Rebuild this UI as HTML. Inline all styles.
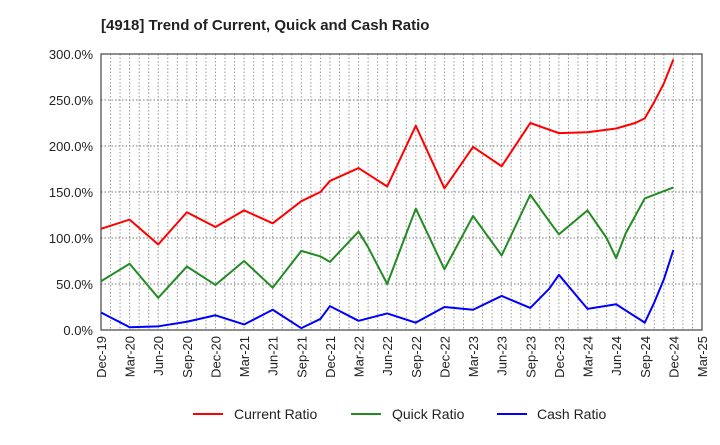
<!DOCTYPE html>
<html><head><meta charset="utf-8"><style>
body{margin:0;background:#fff;font-family:"Liberation Sans",sans-serif}
</style></head><body>
<svg id="chart" width="720" height="440" xmlns="http://www.w3.org/2000/svg" font-family="Liberation Sans, sans-serif">
<text x="101" y="30" font-size="15" font-weight="bold" fill="#222">[4918]  Trend of Current, Quick and Cash Ratio</text>
<g id="grid"></g><g id="axes"></g><g id="series"></g>
<g>
<line x1="193" y1="414" x2="223" y2="414" stroke="#ff0000" stroke-width="2"/>
<text x="234" y="419" font-size="14" fill="#222">Current Ratio</text>
<line x1="351" y1="414" x2="381" y2="414" stroke="#228b22" stroke-width="2"/>
<text x="392" y="419" font-size="14" fill="#222">Quick Ratio</text>
<line x1="497" y1="414" x2="527" y2="414" stroke="#0000ff" stroke-width="2"/>
<text x="537" y="419" font-size="14" fill="#222">Cash Ratio</text>
</g>
</svg>
<script>
const tickLabels=["Dec-19","Mar-20","Jun-20","Sep-20","Dec-20","Mar-21","Jun-21","Sep-21","Dec-21","Mar-22","Jun-22","Sep-22","Dec-22","Mar-23","Jun-23","Sep-23","Dec-23","Mar-24","Jun-24","Sep-24","Dec-24","Mar-25"];
const yTicks=[0,50,100,150,200,250,300];
const currentMonths=[0,3,6,9,12,15,18,21,23,24,27,30,33,36,39,42,45,48,51,54,56,57,58,59,60];
const currentVals=[110,120,93,128,112,130,116,140,150,162,176,156,222,154,199,178,225,214,215,219,225,230,248,268,294];
const quickMonths=[0,3,6,9,12,15,18,21,23,24,27,28,30,33,36,39,42,45,47,48,51,53,54,55,57,60];
const quickVals=[53,72,35,69,49,75,46,86,80,74,107,90,50,132,66,124,81,147,118,104,130,100,78,105,143,155];
const cashMonths=[0,3,6,9,12,15,18,21,23,24,27,30,33,36,39,42,45,47,48,51,54,57,58,59,60];
const cashVals=[19,3,4,9,16,6,22,2,12,26,10,18,8,25,22,37,24,45,60,23,28,8,30,55,87];
const L=101,R=702,T=54,B=330,NM=63,YMAX=300;
const xs=m=>L+(R-L)*m/NM, ys=v=>B-(B-T)*v/YMAX;
const NS="http://www.w3.org/2000/svg";
function mk(tag,attrs,parent){const e=document.createElementNS(NS,tag);for(const k in attrs)e.setAttribute(k,attrs[k]);parent.appendChild(e);return e;}
const grid=document.getElementById('grid'),axes=document.getElementById('axes'),ser=document.getElementById('series');
for(let m=1;m<NM;m++){const l=mk('line',{x1:xs(m),x2:xs(m),y1:T,y2:B,stroke:'#999','stroke-dasharray':'1.5,2','stroke-width':1},grid);

}
yTicks.forEach(v=>{const l=mk('line',{x1:L,x2:R,y1:ys(v),y2:ys(v),stroke:'#777','stroke-dasharray':'1.5,2','stroke-width':1},grid);


const t=mk('text',{x:L-8,y:ys(v)+5,'text-anchor':'end','font-size':13,fill:'#222'},axes);t.textContent=v.toFixed(1)+'%';

});
const fr=mk('rect',{x:L,y:T,width:R-L,height:B-T,fill:'none',stroke:'#444','stroke-width':1.2},axes);


tickLabels.forEach((s,i)=>{const x=xs(i*3);const t=mk('text',{transform:`translate(${x+5},${B+6}) rotate(-90)`,'text-anchor':'end','font-size':13,fill:'#222'},axes);t.textContent=s;

});
[[currentMonths,currentVals,'#ff0000','current-ratio-line'],[quickMonths,quickVals,'#228b22','quick-ratio-line'],[cashMonths,cashVals,'#0000ff','cash-ratio-line']].forEach(([ms,vs,c,n])=>{
const p=mk('polyline',{points:ms.map((m,i)=>xs(m)+','+ys(vs[i])).join(' '),fill:'none',stroke:c,'stroke-width':2,'stroke-linejoin':'round'},ser);

});
</script>
</body></html>
